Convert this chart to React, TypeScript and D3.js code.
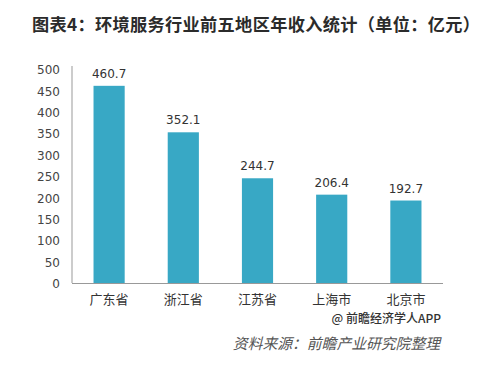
import React from "react";
import * as d3 from "d3";

const categories = ["广东省", "浙江省", "江苏省", "上海市", "北京市"];
const values = [460.7, 352.1, 244.7, 206.4, 192.7];
const yTicks = [0, 50, 100, 150, 200, 250, 300, 350, 400, 450, 500];
const title = "图表4：环境服务行业前五地区年收入统计（单位：亿元）";
const credit = "@ 前瞻经济学人APP";
const source = "资料来源：前瞻产业研究院整理";

export default function App() {
  const W = 500, H = 366;
  const left = 72, right = 443, top = 69, bottom = 283;
  const x = d3.scaleBand<string>().domain(categories).range([left, right]).paddingInner(0.58).paddingOuter(0.29);
  const y = d3.scaleLinear().domain([0, 500]).range([bottom, top]);
  const font = "'Noto Sans CJK SC', 'Noto Sans', sans-serif";
  return (
    <svg width={W} height={H} style={{ position: "absolute", left: 0, top: 0, background: "#fff" }} fontFamily={font}>
      <rect width={W} height={H} fill="#fff" />
      <text x={256} y={31} textAnchor="middle" fontSize={17.2} fontWeight="bold" fill="#2b2b2b" textLength={448} lengthAdjust="spacing">{title}</text>
      {yTicks.map((t) => (
        <text key={t} x={60} y={y(t) + 1} dy="0.35em" textAnchor="end" fontSize={12} fill="#444" fontFamily="'DejaVu Sans', Verdana, sans-serif">{t}</text>
      ))}
      {categories.map((c, i) => (
        <g key={c}>
          <rect x={x(c)} y={y(values[i])} width={x.bandwidth()} height={bottom - y(values[i])} fill="#38a8c5" />
          <text x={(x(c) as number) + x.bandwidth() / 2} y={y(values[i]) - 8} textAnchor="middle" fontSize={12} fill="#333" fontFamily="'DejaVu Sans', Verdana, sans-serif">{values[i]}</text>
          <text x={(x(c) as number) + x.bandwidth() / 2} y={299} dy="0.35em" textAnchor="middle" fontSize={13} fill="#333">{c}</text>
        </g>
      ))}
      <line x1={left} x2={left} y1={top - 3} y2={bottom} stroke="#999" strokeWidth={1} />
      <line x1={left} x2={right} y1={bottom + 0.5} y2={bottom + 0.5} stroke="#999" strokeWidth={1} />
      <text x={441} y={319} dy="0.35em" textAnchor="end" fontSize={12} fontWeight="500" fill="#333">{credit}</text>
      <text x={440} y={344} dy="0.35em" textAnchor="end" fontSize={14.8} fontStyle="italic" fill="#555">{source}</text>
    </svg>
  );
}
